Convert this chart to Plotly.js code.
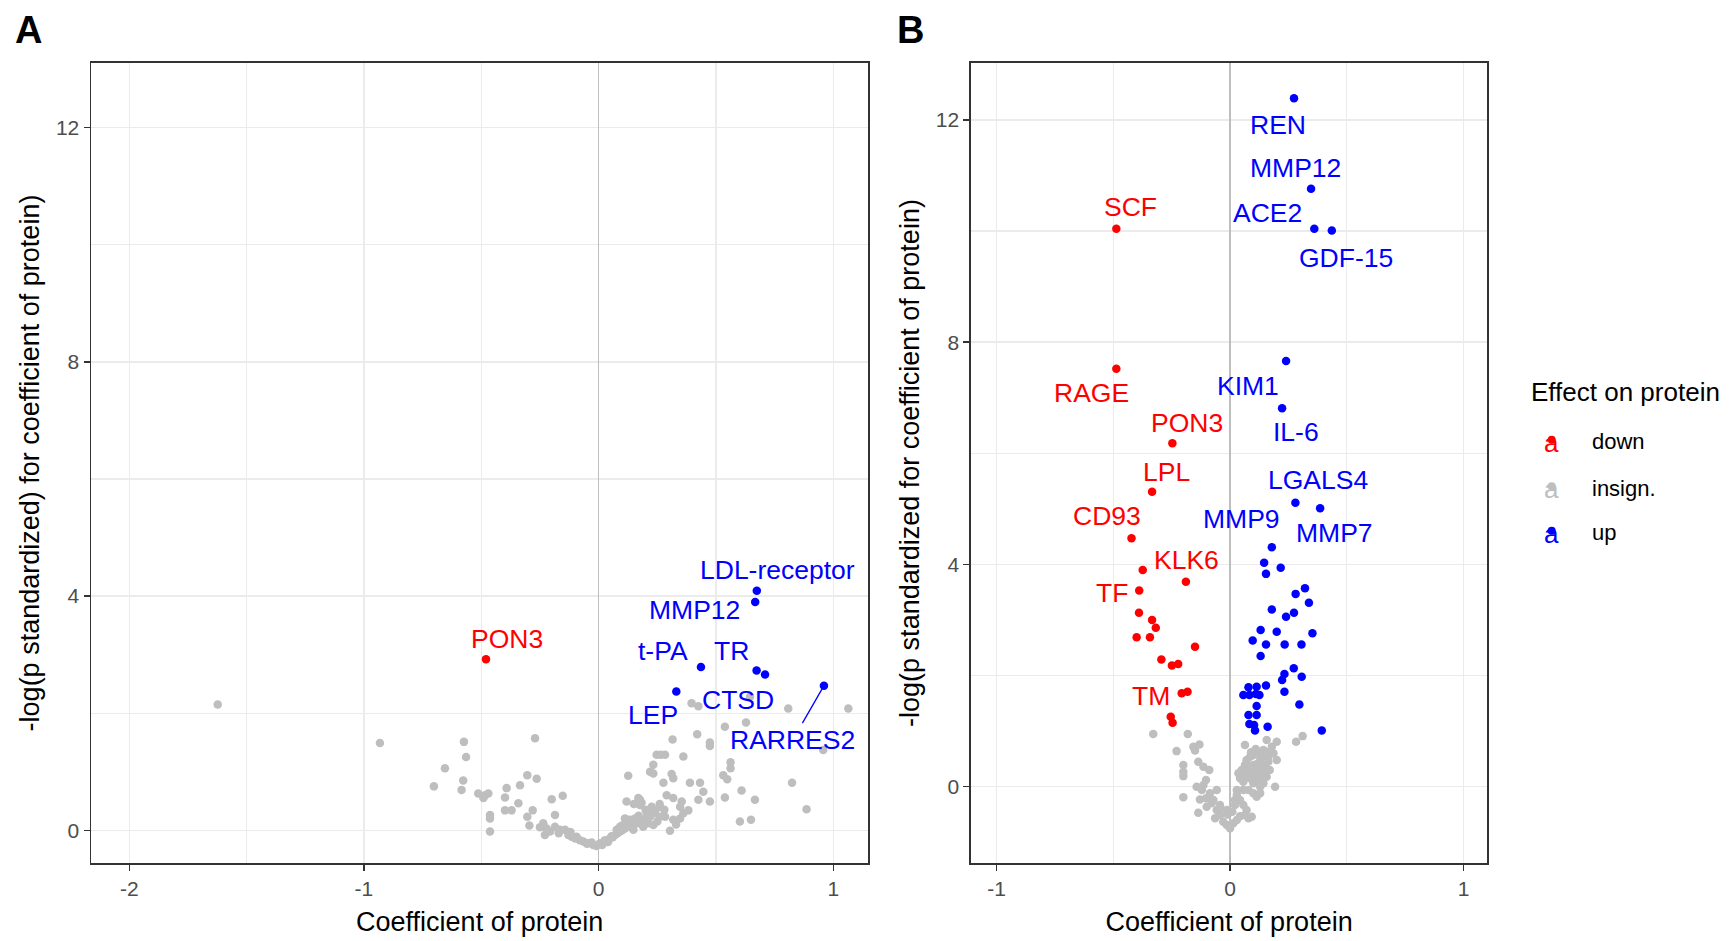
<!DOCTYPE html>
<html>
<head>
<meta charset="utf-8">
<script src="https://cdn.plot.ly/plotly-3.0.1.min.js"></script>
<style>html,body{margin:0;padding:0;background:#fff;}#chart{width:1729px;height:941px;}</style>
</head>
<body>
<div id="chart"></div>
<script>
// ---------- Panel A data ----------
const aGrayX = [-1.623,-0.932,-0.655,-0.702,-0.574,-0.565,-0.271,-0.577,-0.584,-0.513,-0.484,-0.470,-0.491,-0.463,-0.463,-0.463,-0.392,-0.399,-0.335,-0.304,-0.264,-0.342,-0.371,-0.399,-0.281,-0.304,-0.295,-0.200,-0.153,-0.186,
  -0.236,-0.222,-0.229,-0.207,-0.186,-0.165,-0.143,-0.129,-0.115,-0.094,-0.080,-0.065,-0.044,-0.023,-0.009,0.006,0.027,0.048,0.070,0.091,0.112,0.134,0.162,0.190,0.219,0.240,
  -0.250,-0.170,-0.100,-0.050,0.015,0.040,0.060,0.100,0.080,0.030,-0.030,-0.120,
  0.126,0.119,0.169,0.183,0.176,0.233,0.247,0.264,0.283,0.219,0.233,0.315,0.361,0.311,0.318,0.276,0.389,0.432,0.446,0.474,0.425,
  0.396,0.425,0.645,0.808,1.064,0.538,0.628,0.420,0.474,0.474,0.957,0.562,0.562,0.531,0.548,0.538,0.609,0.666,0.824,0.886,0.602,0.649,
  0.290,0.318,0.354,0.382,0.261,0.240,0.283,0.318,0.205,0.190,0.233,0.176,0.304,0.148,0.155,0.205,0.261,0.233,0.148,0.077,0.091,0.119,0.226,0.347,0.361,0.347,0.112,0.134,0.176,0.150,0.200,0.260,
  0.055,0.100,0.125,0.170,0.210,0.250,0.280,0.330];
const aGrayY = [2.15,1.49,1.06,0.75,1.51,1.25,1.57,0.85,0.69,0.63,0.60,0.63,0.55,0.26,0.20,-0.02,0.72,0.56,0.77,0.94,0.88,0.46,0.34,0.34,0.34,0.23,0.08,0.53,0.59,0.26,
  0.12,0.03,-0.08,-0.02,0.06,0.01,0.01,-0.08,-0.11,-0.11,-0.17,-0.19,-0.22,-0.25,-0.27,-0.22,-0.17,-0.14,-0.08,-0.02,0.03,0.06,0.12,0.18,0.23,0.29,
  0.05,-0.05,-0.14,-0.23,-0.25,-0.20,-0.12,0.00,-0.05,-0.19,-0.21,-0.03,
  0.93,0.49,0.55,0.47,0.43,1.12,1.29,1.29,1.29,1.00,0.97,1.55,1.26,0.96,0.89,0.81,0.81,0.81,0.66,0.49,0.52,
  2.17,2.12,2.28,2.08,2.08,1.77,1.84,1.64,1.50,1.44,1.37,1.16,1.06,0.94,0.87,0.56,0.68,0.52,0.81,0.36,0.15,0.18,
  0.60,0.55,0.49,0.34,0.40,0.32,0.23,0.18,0.18,0.06,0.09,0.52,-0.01,0.12,0.20,0.29,0.23,0.35,0.01,0.01,0.06,0.18,0.40,0.40,0.29,0.20,0.20,0.18,0.12,0.45,0.35,0.45,
  -0.10,0.08,0.10,0.25,0.12,0.15,0.35,0.10];
const aDownX = [-0.480];
const aDownY = [2.92];
const aDownLabel = ['PON3'];
const aUpX = [0.674, 0.667, 0.436, 0.673, 0.709, 0.331, 0.960];
const aUpY = [4.09, 3.90, 2.79, 2.73, 2.66, 2.37, 2.47];
const aUpLabel = ['LDL-receptor','MMP12','t-PA','TR','CTSD','LEP','RARRES2'];

// ---------- Panel B data ----------
const bGrayX = [-0.329,-0.181,-0.229,-0.157,-0.131,0.064,0.157,0.200,0.283,0.311,-0.200,-0.200,-0.200,-0.136,-0.114,-0.089,-0.103,-0.114,-0.143,-0.121,-0.086,-0.057,-0.200,-0.129,-0.103,-0.136,
  -0.079,-0.057,-0.043,-0.064,-0.029,-0.014,0.000,0.014,0.029,0.043,0.064,0.079,0.093,0.071,0.057,0.043,0.021,0.029,0.057,0.079,0.100,0.114,0.129,0.129,0.143,0.129,0.157,0.193,0.100,0.086,0.057,0.043,
  0.050,0.064,0.071,0.086,0.100,0.114,0.129,0.143,0.179,0.186,0.164,0.129,0.100,0.079,0.100,0.129,0.150,0.164,0.114,0.086,0.036,0.029,0.021,-0.014,-0.043,-0.071,-0.150,
  0.070,0.090,0.120,0.140,0.160,0.110,0.090,0.060,0.110,0.140,0.170,0.200,-0.010,0.010,-0.040,-0.100];
const bGrayY = [0.95,0.95,0.64,0.72,0.76,0.75,0.84,0.81,0.81,0.91,0.39,0.27,0.19,0.45,0.36,0.30,0.12,0.03,0.00,-0.06,-0.12,-0.06,-0.19,-0.23,-0.21,-0.47,
  -0.30,-0.42,-0.51,-0.57,-0.63,-0.69,-0.75,-0.66,-0.60,-0.53,-0.51,-0.57,-0.54,-0.42,-0.33,-0.24,-0.24,-0.15,-0.06,-0.06,-0.12,-0.18,-0.12,0.00,0.06,0.15,0.18,0.00,0.06,0.15,0.09,0.15,
  0.30,0.39,0.48,0.54,0.57,0.60,0.63,0.66,0.72,0.60,0.54,0.48,0.39,0.33,0.30,0.33,0.39,0.45,0.24,0.21,0.24,-0.06,-0.33,-0.42,-0.33,-0.24,0.65,
  0.42,0.36,0.42,0.55,0.62,0.68,0.62,0.20,0.12,0.27,0.30,0.48,-0.50,-0.45,-0.40,-0.36];
const bDownX = [-0.487,-0.487,-0.247,-0.334,-0.422,-0.374,-0.189,-0.389,-0.390,-0.334,-0.318,-0.400,-0.343,-0.150,-0.294,-0.249,-0.222,-0.207,-0.182,-0.254,-0.246];
const bDownY = [10.04,7.52,6.18,5.31,4.47,3.90,3.69,3.53,3.13,3.00,2.86,2.69,2.69,2.52,2.29,2.18,2.21,1.68,1.71,1.26,1.15];
const bDownLabel = ['SCF','RAGE','PON3','LPL','CD93','','KLK6','TF','','','','','','','','','','TM','','',''];
const bUpX = [0.274,0.347,0.361,0.436,0.240,0.223,0.280,0.386,0.179,0.146,0.217,0.154,0.321,0.281,0.338,0.179,0.240,0.274,0.131,0.200,0.353,0.097,0.154,0.234,0.306,0.131,0.273,0.233,0.307,0.223,0.154,0.079,0.114,0.057,0.083,0.111,0.126,0.233,0.114,0.297,0.079,0.114,0.083,0.103,0.107,0.161,0.393];
const bUpY = [12.39,10.76,10.04,10.01,7.66,6.81,5.11,5.01,4.31,4.03,3.94,3.83,3.57,3.47,3.31,3.19,3.06,3.13,2.82,2.79,2.76,2.63,2.56,2.56,2.56,2.35,2.13,2.03,1.98,1.92,1.82,1.79,1.80,1.65,1.65,1.67,1.65,1.71,1.45,1.48,1.29,1.29,1.13,1.11,1.01,1.08,1.01];
const bUpLabel = ['REN','MMP12','ACE2','GDF-15','KIM1','IL-6','LGALS4','MMP7','MMP9'];

// ---------- Legend / tick text ----------
const legendTitle = 'Effect on protein';
const legendLabels = ['down','insign.','up'];
const xTicksA = [-2,-1,0,1];
const xTicksB = [-1,0,1];
const yTicks = [0,4,8,12];
const xTitle = 'Coefficient of protein';
const yTitleA = '-log(p standardized) for coefficient of protein)';
const yTitleB = '-log(p standardized for coefficient of protein)';

// ---------- styling (not data) ----------
const RED = '#FF0000', BLUE = '#0000FF', GREY = '#BEBEBE';
const FONT = 'Liberation Sans, Arial, sans-serif';
const W = 1729, H = 941;
// label offsets in screen pixels [dx, dy] (dy downward)
const offA = {'PON3':[21,-20],'LDL-receptor':[21,-21],'MMP12':[-61,8],'t-PA':[-38,-16],'TR':[-25,-19],'CTSD':[-27,25],'LEP':[-23,23],'RARRES2':[-31,54]};
const offB = {'REN':[-16,27],'MMP12':[-16,-21],'ACE2':[-47,-16],'GDF-15':[14,27],'SCF':[14,-22],'RAGE':[-25,24],'KIM1':[-38,25],'IL-6':[14,24],'PON3':[15,-20],'LPL':[14,-20],'CD93':[-25,-22],'LGALS4':[23,-23],'MMP9':[-30,-28],'MMP7':[14,25],'KLK6':[1,-22],'TF':[-27,2],'TM':[-31,3]};
const arrowLabels = {'RARRES2':true};

function pts(x, y, color, xa, ya, name) {
  return {type:'scatter', mode:'markers', x:x, y:y, xaxis:xa, yaxis:ya, name:name,
    marker:{color:color, size:8.5, line:{width:0}}, showlegend:false, hoverinfo:'x+y'};
}
const traces = [
  pts(aGrayX, aGrayY, GREY, 'x', 'y', 'insign.'),
  pts(aDownX, aDownY, RED, 'x', 'y', 'down'),
  pts(aUpX, aUpY, BLUE, 'x', 'y', 'up'),
  pts(bGrayX, bGrayY, GREY, 'x2', 'y2', 'insign.'),
  pts(bDownX, bDownY, RED, 'x2', 'y2', 'down'),
  pts(bUpX, bUpY, BLUE, 'x2', 'y2', 'up')
];

const annotations = [];
function addLabels(xs, ys, labs, color, xref, yref, offs) {
  labs.forEach((t, i) => {
    if (!t) return;
    const o = offs[t] || [0, -20];
    if (arrowLabels[t] && xref === 'x') {
      annotations.push({x:xs[i], y:ys[i], xref:xref, yref:yref, text:t, showarrow:true,
        ax:o[0], ay:o[1], arrowhead:0, arrowwidth:1.3, arrowcolor:color, standoff:4,
        font:{family:FONT, size:26.5, color:color}});
    } else {
      annotations.push({x:xs[i], y:ys[i], xref:xref, yref:yref, text:t, showarrow:false,
        xanchor:'center', yanchor:'middle', xshift:o[0], yshift:-o[1],
        font:{family:FONT, size:26.5, color:color}});
    }
  });
}
addLabels(aDownX, aDownY, aDownLabel, RED, 'x', 'y', offA);
addLabels(aUpX, aUpY, aUpLabel, BLUE, 'x', 'y', offA);
addLabels(bDownX, bDownY, bDownLabel, RED, 'x2', 'y2', offB);
addLabels(bUpX, bUpY, bUpLabel, BLUE, 'x2', 'y2', offB);

// panel letters
annotations.push({xref:'paper', yref:'paper', x:28.7/W, y:1-29.8/H, text:'<b>A</b>', showarrow:false, xanchor:'center', yanchor:'middle', font:{family:FONT, size:38, color:'#000'}});
annotations.push({xref:'paper', yref:'paper', x:910.8/W, y:1-29.8/H, text:'<b>B</b>', showarrow:false, xanchor:'center', yanchor:'middle', font:{family:FONT, size:38, color:'#000'}});

// legend (drawn manually as text keys)
annotations.push({xref:'paper', yref:'paper', x:1529/W, y:1-391.7/H, text:legendTitle, showarrow:false, xanchor:'left', yanchor:'middle', font:{family:FONT, size:26, color:'#000'}});
const legColors = [RED, GREY, BLUE];
const legY = [441.7, 488.3, 532.7];
const shapes = [];
legendLabels.forEach((t, i) => {
  annotations.push({xref:'paper', yref:'paper', x:1551.7/W, y:1-(legY[i]+1)/H, text:'a', showarrow:false, xanchor:'center', yanchor:'middle', font:{family:FONT, size:26, color:legColors[i]}});
  annotations.push({xref:'paper', yref:'paper', x:1590/W, y:1-legY[i]/H, text:t, showarrow:false, xanchor:'left', yanchor:'middle', font:{family:FONT, size:22, color:'#000'}});
  shapes.push({type:'circle', xref:'paper', yref:'paper', x0:(1551.7-4)/W, x1:(1551.7+4)/W, y0:1-(legY[i]-6)/H, y1:1-(legY[i]+2)/H, fillcolor:legColors[i], line:{width:0}});
});

function xaxis(domain, range, ticks, minor) {
  return {domain:domain, range:range, tickmode:'array', tickvals:ticks, ticktext:ticks.map(String),
    minor:{tickmode:'array', tickvals:minor, showgrid:true, gridcolor:'#EBEBEB', gridwidth:1.2, ticks:''},
    showgrid:true, gridcolor:'#EBEBEB', gridwidth:1.4,
    zeroline:true, zerolinecolor:'#BEBEBE', zerolinewidth:1.5,
    showline:true, mirror:true, linecolor:'#333333', linewidth:1.5,
    ticks:'outside', ticklen:6, tickwidth:1.4, tickcolor:'#333333',
    tickfont:{family:FONT, size:21, color:'#4D4D4D'}, automargin:false, fixedrange:true,
    title:{text:xTitle, font:{family:FONT, size:27, color:'#000'}, standoff:13}};
}
function yaxis(range, title, anchor) {
  return {domain:[1-863.3/H, 1-62.7/H], range:range, anchor:anchor, tickmode:'array', tickvals:yTicks, ticktext:yTicks.map(String),
    minor:{tickmode:'array', tickvals:[2,6,10], showgrid:true, gridcolor:'#EBEBEB', gridwidth:1.2, ticks:''},
    showgrid:true, gridcolor:'#EBEBEB', gridwidth:1.4, zeroline:false,
    showline:true, mirror:true, linecolor:'#333333', linewidth:1.5,
    ticks:'outside', ticklen:6, tickwidth:1.4, tickcolor:'#333333',
    tickfont:{family:FONT, size:21, color:'#4D4D4D'}, automargin:false, fixedrange:true,
    title:{text:title, font:{family:FONT, size:27, color:'#000'}, standoff:8}};
}

const xa = xaxis([91/W, 868.3/W], [-2.163, 1.149], xTicksA, [-1.5,-0.5,0.5]);
xa.anchor = 'y';
const xb = xaxis([970.9/W, 1487.3/W], [-1.110, 1.102], xTicksB, [-0.5,0.5]);
xb.anchor = 'y2';

const layout = {
  width:W, height:H, margin:{l:0, r:0, t:0, b:0},
  paper_bgcolor:'#FFFFFF', plot_bgcolor:'#FFFFFF',
  showlegend:false, font:{family:FONT},
  xaxis:xa, xaxis2:xb,
  yaxis:yaxis([-0.564, 13.11], yTitleA, 'x'),
  yaxis2:yaxis([-1.379, 13.03], yTitleB, 'x2'),
  annotations:annotations, shapes:shapes
};
Plotly.newPlot('chart', traces, layout, {displayModeBar:false, staticPlot:true});
</script>
</body>
</html>
